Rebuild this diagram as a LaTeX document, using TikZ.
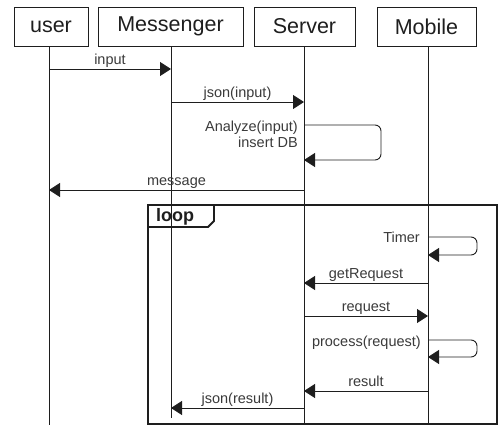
\documentclass[tikz,border=0pt]{standalone}
\usepackage{fontspec}
\setmainfont{Liberation Sans}
\usetikzlibrary{arrows.meta}
\definecolor{ink}{HTML}{1E1E1E}
\definecolor{txt}{HTML}{3A3A3A}
\begin{document}
\begin{tikzpicture}[x=1pt,y=-1pt,
  head/.style={draw=ink,line width=0.9pt,minimum height=39pt,inner sep=0pt,
    font=\fontsize{21.5}{24}\selectfont,text=ink},
  life/.style={draw=ink,line width=0.9pt},
  msg/.style={draw=ink,line width=0.9pt,-{Triangle[length=11pt,width=14pt]}},
  self/.style={msg,rounded corners=6pt},
  lbl/.style={anchor=base,yshift=4.5pt,inner sep=0pt,text=txt,
    font=\fontsize{14.5}{16}\selectfont},
  slbl/.style={anchor=base east,inner sep=0pt,text=txt,align=right,
    font=\fontsize{14.5}{16.5}\selectfont},
  frame/.style={draw=ink,line width=1.8pt}]
\useasboundingbox (0,0) rectangle (499,428);

% participants
\node[head,minimum width=74pt]  (user) at (51,26.5)  {user};
\node[head,minimum width=145pt] (msgr) at (170.5,26.5) {Messenger};
\node[head,minimum width=101pt] (srv)  at (304.5,26.5) {Server};
\node[head,minimum width=99pt]  (mob)  at (426.5,26.5) {Mobile};

% lifeline ends
\coordinate (userE) at (49,425);
\coordinate (msgrE) at (171,418);
\coordinate (srvE)  at (304,423);
\coordinate (mobE)  at (428,423);
\draw[life] (user.south -| userE) -- (userE);
\draw[life] (msgr.south -| msgrE) -- (msgrE);
\draw[life] (srv.south -| srvE) -- (srvE);
\draw[life] (mob.south -| mobE) -- (mobE);

% message anchors on the lifelines
\coordinate (u1) at (49,69);   \coordinate (m1) at (171,69);
\coordinate (m2) at (171,102); \coordinate (s2) at (304,102);
\coordinate (s3) at (304,125); \coordinate (s3e) at (304,160);
\coordinate (s4) at (304,190); \coordinate (u4) at (49,190);
\coordinate (b1) at (428,237); \coordinate (b1e) at (428,255);
\coordinate (b2) at (428,283); \coordinate (s5) at (304,283);
\coordinate (s6) at (304,316); \coordinate (b3) at (428,316);
\coordinate (b4) at (428,340); \coordinate (b4e) at (428,357);
\coordinate (b5) at (428,391); \coordinate (s7) at (304,391);
\coordinate (s8) at (304,408); \coordinate (m8) at (171,408);

% messages
\draw[msg] (u1) -- node[lbl]{input} (m1);
\draw[msg] (m2) -- node[lbl]{json(input)} (s2);
\draw[self] (s3) -- ++(77,0) -- ++(0,35) -- (s3e);
\node[slbl] (analyze) at (298,148) {Analyze(input)\\insert DB};
\draw[msg] (s4) -- node[lbl]{message} (u4);

% loop fragment
\coordinate (fTL) at (148,205);
\coordinate (fBR) at (497,424);
\draw[frame] (fTL) rectangle (fBR);
\draw[frame] (148,227) -- (208,227) -- (214,221) -- (214,205);
\node[anchor=base west,inner sep=0pt,text=ink,
  font=\fontsize{18}{20}\selectfont\bfseries] (loop) at (156,222) {loop};

\draw[self] (b1) -- ++(49,0) -- ++(0,18) -- (b1e);
\node[slbl] (timer) at (420,242) {Timer};
\draw[msg] (b2) -- node[lbl]{getRequest} (s5);
\draw[msg] (s6) -- node[lbl]{request} (b3);
\draw[self] (b4) -- ++(49,0) -- ++(0,17) -- (b4e);
\node[slbl] (proc) at (421,346) {process(request)};
\draw[msg] (b5) -- node[lbl]{result} (s7);
\draw[msg] (s8) -- node[lbl]{json(result)} (m8);
\end{tikzpicture}
\end{document}
